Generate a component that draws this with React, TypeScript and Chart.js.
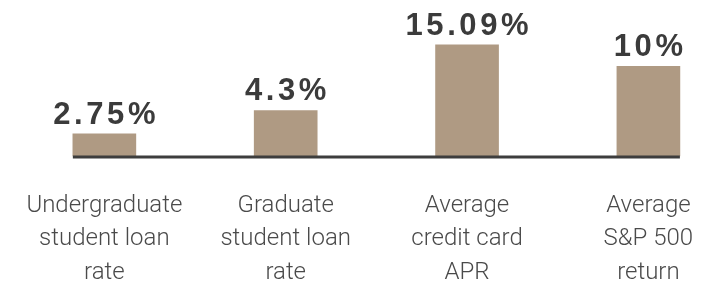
import React, { useEffect, useRef } from "react";
import { Chart, registerables } from "chart.js";

Chart.register(...registerables);

const categories: string[][] = [
  ["Undergraduate", "student loan", "rate"],
  ["Graduate", "student loan", "rate"],
  ["Average", "credit card", "APR"],
  ["Average", "S&P 500", "return"],
];
const values: number[] = [2.75, 4.3, 15.09, 10];
const valueLabels: string[] = ["2.75%", "4.3%", "15.09%", "10%"];

const BAR_COLOR = "#af9a83";
const TEXT_DARK = "#3b3b3b";
const TEXT_LIGHT = "#4a4a4a";

const baselineAndLabels = {
  id: "baselineAndLabels",
  afterDatasetsDraw(chart: any) {
    const meta = chart.getDatasetMeta(0);
    const els = meta.data;
    if (!els.length) return;
    const ctx = chart.ctx as CanvasRenderingContext2D;
    const first = els[0];
    const last = els[els.length - 1];
    const left = first.x - first.width / 2;
    const right = last.x + last.width / 2;
    const bottom = chart.chartArea.bottom;
    ctx.save();
    ctx.fillStyle = "#3d3d3d";
    ctx.fillRect(left, bottom - 0.5, right - left, 3);

    ctx.font = "bold 31px 'Liberation Sans', Arial, sans-serif";
    ctx.fillStyle = TEXT_DARK;
    ctx.textBaseline = "alphabetic";
    ctx.textAlign = "left";
    const spacing = 3.6;
    (ctx as any).letterSpacing = spacing + "px";
    els.forEach((el: any, i: number) => {
      const text = valueLabels[i];
      const w = ctx.measureText(text).width - spacing;
      ctx.fillText(text, el.x - w / 2, el.y - 10);
    });
    ctx.restore();
  },
};

export default function App() {
  const ref = useRef<HTMLCanvasElement | null>(null);

  useEffect(() => {
    if (!ref.current) return;
    const chart = new Chart(ref.current, {
      type: "bar",
      data: {
        labels: categories,
        datasets: [
          {
            data: values,
            backgroundColor: BAR_COLOR,
            borderWidth: 0,
            barThickness: 63,
            clip: false as any,
          },
        ],
      },
      options: {
        animation: false,
        responsive: false,
        maintainAspectRatio: false,
        layout: {
          padding: { left: 104.35, right: 55.6, top: 8.9, bottom: 0 },
        },
        plugins: {
          legend: { display: false },
          tooltip: { enabled: false },
        },
        scales: {
          x: {
            type: "category",
            offset: false,
            border: { display: false },
            grid: { display: false, drawTicks: false },
            afterFit: (scale: any) => {
              scale.height = 126;
              scale.paddingLeft = 0;
              scale.paddingRight = 0;
            },
            ticks: {
              color: TEXT_LIGHT,
              padding: 33,
              maxRotation: 0,
              autoSkip: false,
              font: {
                family: "Roboto, 'Liberation Sans', sans-serif",
                size: 24,
                weight: "300" as any,
                lineHeight: 1.4,
              },
            },
          },
          y: {
            type: "logarithmic",
            display: false,
            min: 1.8,
            max: 30,
          },
        },
      },
      plugins: [baselineAndLabels],
    });
    return () => chart.destroy();
  }, []);

  return (
    <div style={{ position: "fixed", left: 0, top: 0, width: 704, height: 282, background: "#fff" }}>
      <canvas ref={ref} width={704} height={282} style={{ width: 704, height: 282, display: "block" }} />
    </div>
  );
}
